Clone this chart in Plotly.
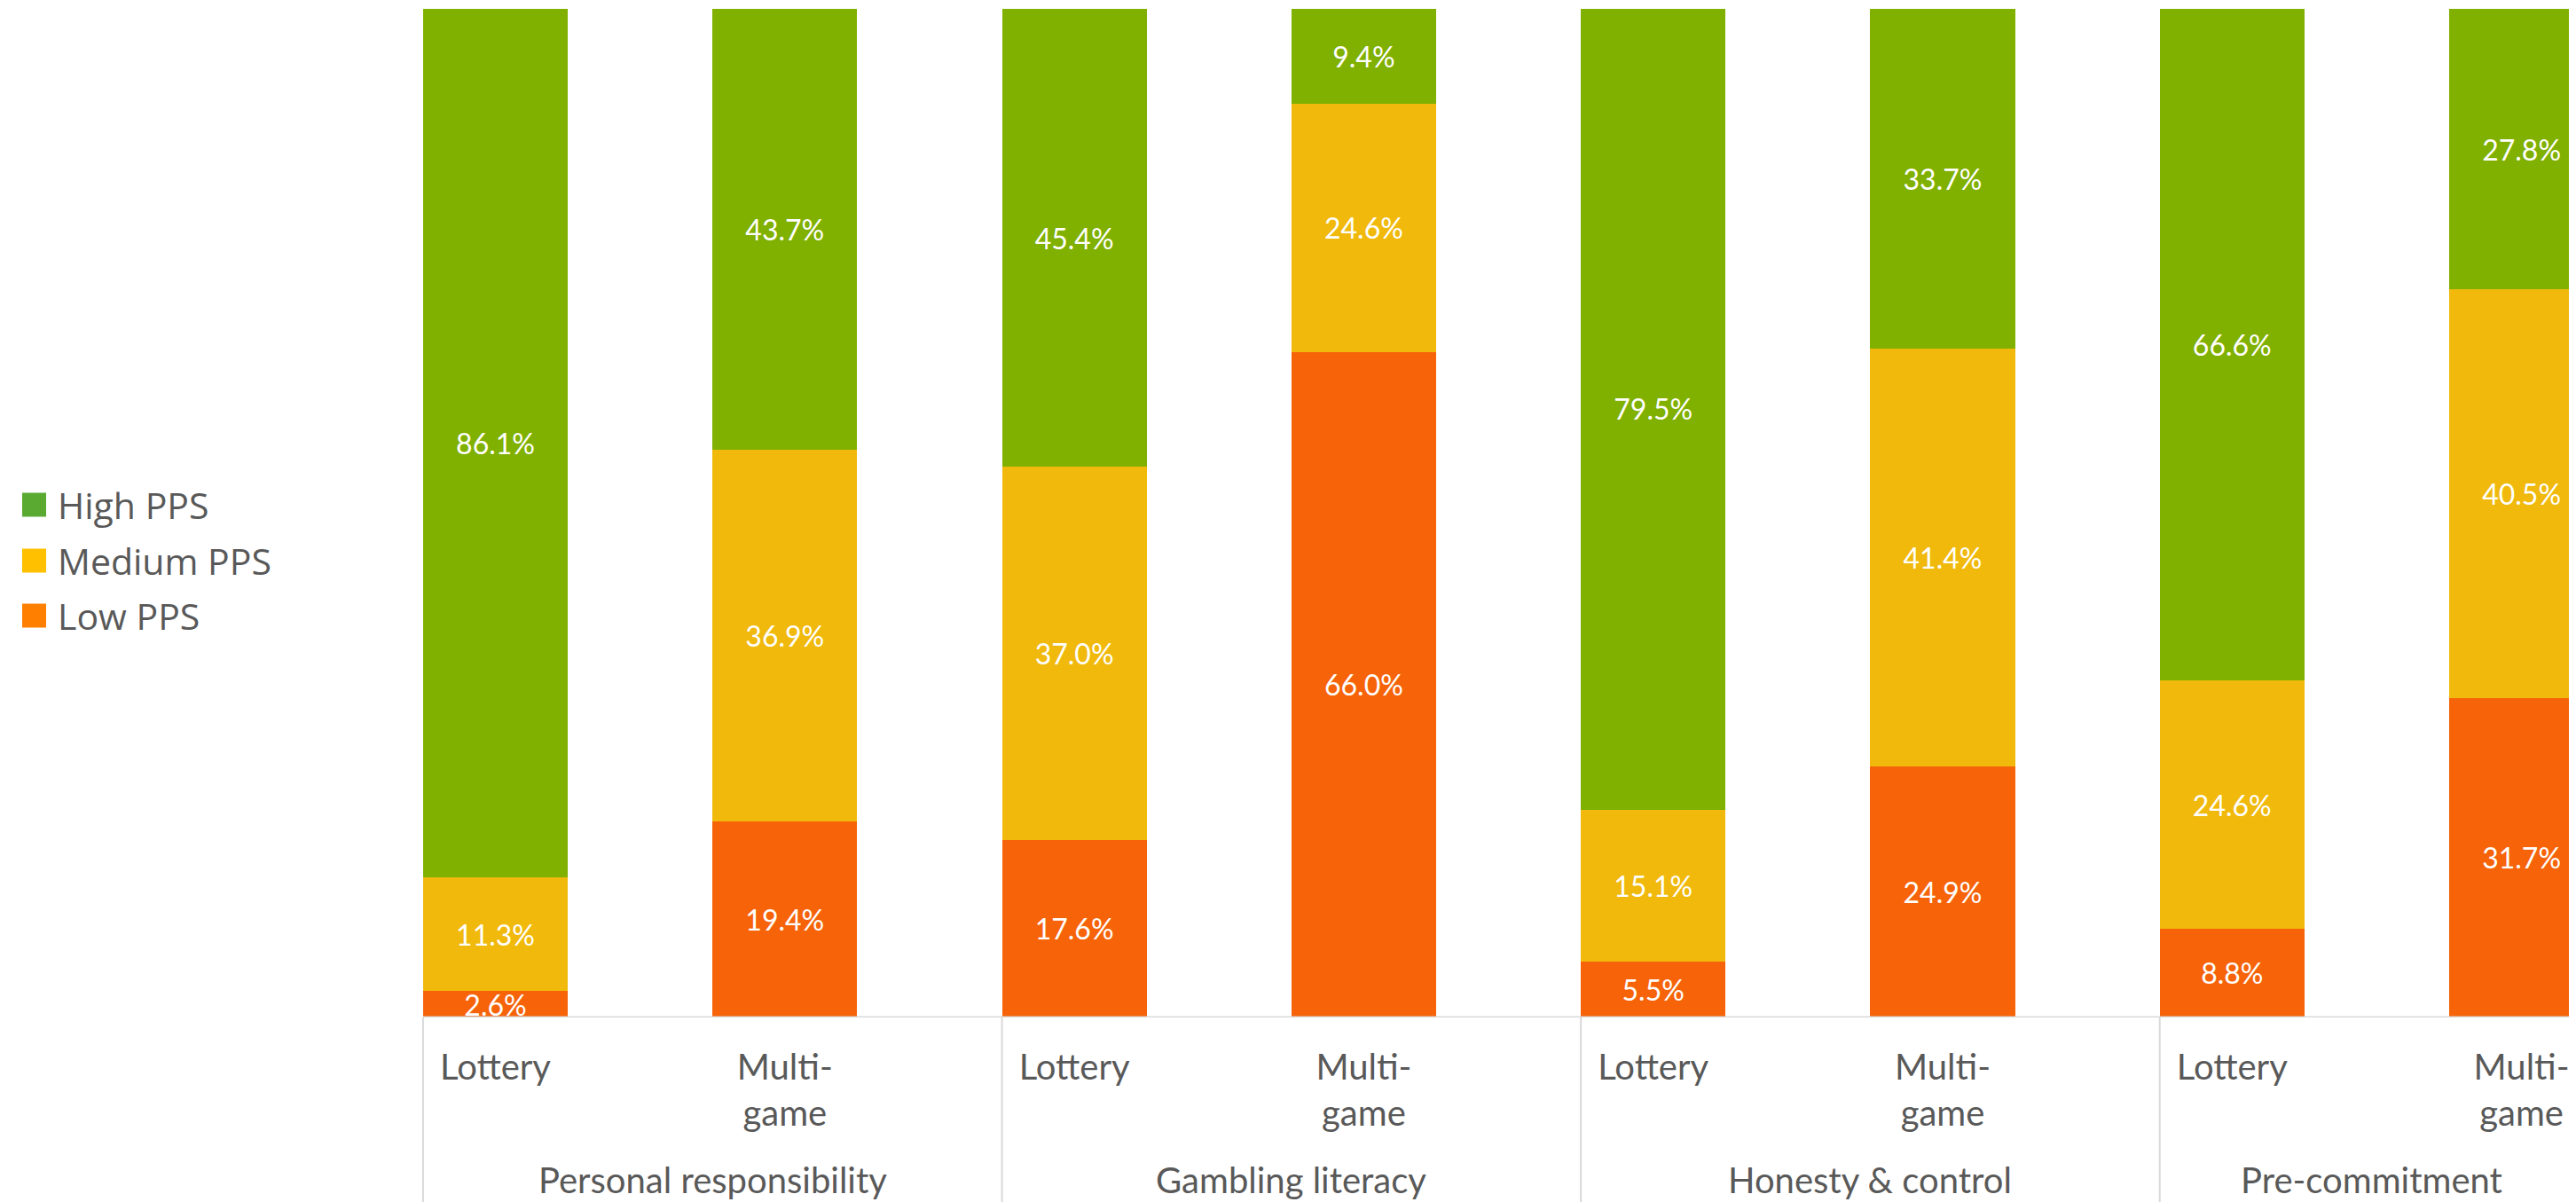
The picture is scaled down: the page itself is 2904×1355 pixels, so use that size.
import plotly.graph_objects as go

# ---- data ----
groups = ["Personal responsibility", "Gambling literacy", "Honesty & control", "Pre-commitment"]
sub_labels = ["Lottery", "Multi-<br>game"] * 4
low = [2.6, 19.4, 17.6, 66.0, 5.5, 24.9, 8.8, 31.7]
medium = [11.3, 36.9, 37.0, 24.6, 15.1, 41.4, 24.6, 40.5]
high = [86.1, 43.7, 45.4, 9.4, 79.5, 33.7, 66.6, 27.8]
series_names = ["Low PPS", "Medium PPS", "High PPS"]
bar_colors = ["#F66309", "#F0B90B", "#80B000"]
legend_colors = ["#FF7F00", "#FFC000", "#5AAA32"]

# ---- layout constants (page body has an 8px margin) ----
OFF = 8
W, H = 2904, 1355
top_px, base_px = 10 - OFF, 1147 - OFF
first_center_px, step_px = 558.5 - OFF, 326.3
xs = list(range(len(low)))
x_lo = -first_center_px / step_px
x_hi = (W - first_center_px) / step_px
grey = "#595959"
line_grey = "#D9D9D9"
FONT = "Lato"

fig = go.Figure()
for name, vals, col in zip(series_names, [low, medium, high], bar_colors):
    fig.add_trace(go.Bar(
        x=xs, y=vals, name=name, width=0.5,
        marker=dict(color=col, line=dict(width=0)),
        texttemplate="%{y:.1f}%", textposition="inside",
        insidetextanchor="middle", textangle=0,
        textfont=dict(color="white", size=32, family=FONT),
        showlegend=False, hoverinfo="skip",
    ))

plot_h = base_px - top_px

shapes = []
# baseline
shapes.append(dict(type="line", xref="x", yref="y", x0=-0.25, x1=x_hi + 1, y0=0, y1=0,
                   line=dict(color=line_grey, width=3), layer="above"))
# group dividers
for g in range(len(groups)):
    xd = 2 * g - 0.25
    shapes.append(dict(type="line", xref="x", yref="paper", x0=xd, x1=xd, y0=0,
                       y1=-(H - base_px) / plot_h, line=dict(color=line_grey, width=2)))

annotations = []
for g, gname in enumerate(groups):
    g_start = 2 * g - 0.25
    g_end = min(2 * g + 1.75, x_hi)
    annotations.append(dict(x=(g_start + g_end) / 2, xref="x", y=-(1330 - OFF - base_px) / plot_h,
                            yref="paper", text=gname, showarrow=False, xanchor="center",
                            yanchor="middle", font=dict(size=40, color=grey, family=FONT)))

# manual legend (top to bottom: High, Medium, Low)
leg_y = [569, 632, 694]
for i, (name, col) in enumerate(zip(series_names[::-1], legend_colors[::-1])):
    yc = (base_px - (leg_y[i] - OFF)) / plot_h
    half = 13.5 / plot_h
    shapes.append(dict(type="rect", xref="paper", yref="paper",
                       x0=(25 - OFF) / W, x1=(52 - OFF) / W, y0=yc - half, y1=yc + half,
                       fillcolor=col, line=dict(width=0)))
    annotations.append(dict(x=(63 - OFF) / W, xref="paper", y=yc, yref="paper", text=name,
                            showarrow=False, xanchor="left", yanchor="middle",
                            font=dict(size=41, color=grey, family="Open Sans")))

fig.update_layout(
    width=W, height=H,
    margin=dict(l=0, r=0, t=top_px, b=H - base_px, pad=0),
    paper_bgcolor="white", plot_bgcolor="white",
    barmode="stack",
    bargap=0.5,
    showlegend=False,
    uniformtext=dict(minsize=32, mode="show"),
    xaxis=dict(range=[x_lo, x_hi], tickmode="array", tickvals=xs, ticktext=sub_labels,
               showgrid=False, zeroline=False, showline=False, ticks="",
               tickfont=dict(size=40, color=grey, family=FONT), ticklabelstandoff=29,
               fixedrange=True),
    yaxis=dict(range=[0, 100], visible=False, fixedrange=True),
    shapes=shapes, annotations=annotations,
)

fig.write_html("out.html")
